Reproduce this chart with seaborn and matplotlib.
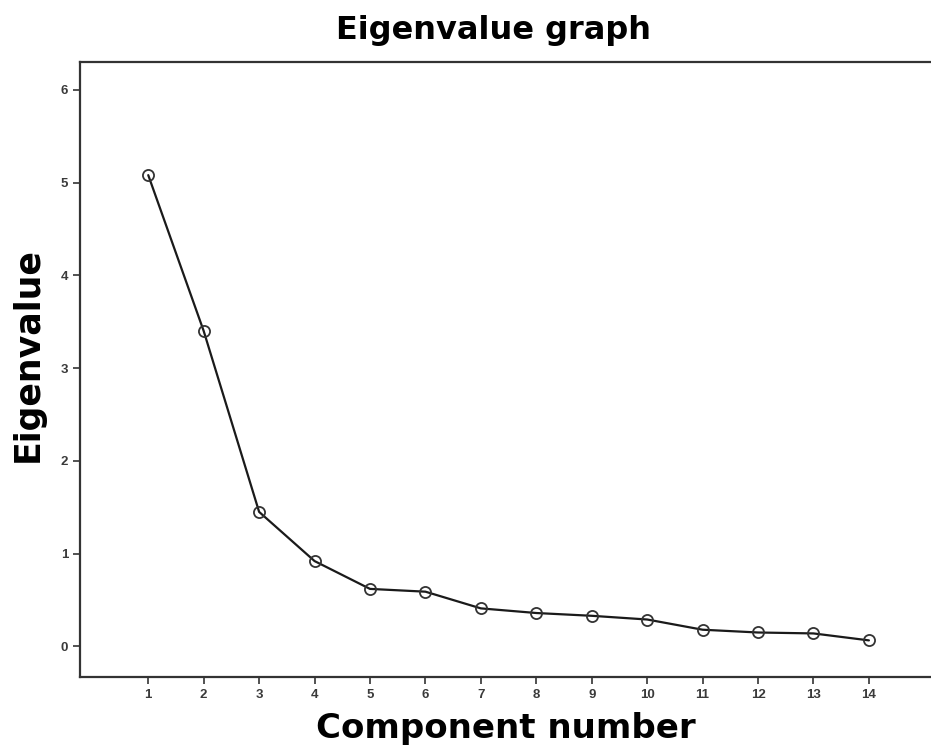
import pandas as pd
import seaborn as sns
import matplotlib
matplotlib.use("Agg")
import matplotlib.pyplot as plt

# Scree plot values
components = [1, 2, 3, 4, 5, 6, 7, 8, 9, 10, 11, 12, 13, 14]
eigenvalues = [5.08, 3.40, 1.45, 0.92, 0.62, 0.59, 0.41, 0.36, 0.33, 0.29, 0.18, 0.15, 0.14, 0.065]
y_ticks = [0, 1, 2, 3, 4, 5, 6]

df = pd.DataFrame({"component": components, "eigenvalue": eigenvalues})

sns.set_style("ticks")
plt.rcParams["font.family"] = ["DejaVu Sans"]

fig = plt.figure(figsize=(9.31, 7.51), dpi=100)
ax = fig.add_axes([0.086, 0.0985, 0.914, 0.819])

sns.lineplot(data=df, x="component", y="eigenvalue", ax=ax, color="#1a1a1a",
             linewidth=1.6, marker="o", markersize=8, markerfacecolor="none",
             markeredgecolor="#333333", markeredgewidth=1.3)

ax.set_xlim(-0.23, 15.12)
ax.set_ylim(-0.33, 6.30)
ax.set_xticks(components)
ax.set_yticks(y_ticks)
ax.tick_params(axis="both", direction="out", length=5, width=1.2, color="#333333",
               labelsize=9.5, labelcolor="#3a3a3a")
for lab in ax.get_xticklabels() + ax.get_yticklabels():
    lab.set_fontfamily(["Liberation Sans", "DejaVu Sans"])
    lab.set_fontweight("bold")

for side in ["left", "bottom", "top"]:
    ax.spines[side].set_linewidth(1.6)
    ax.spines[side].set_color("#333333")
ax.spines["right"].set_visible(False)

ax.set_xlabel("Component number", fontsize=24.5, fontweight="bold", color="black", labelpad=8)
ax.set_ylabel("Eigenvalue", fontsize=25, fontweight="bold", color="black")
ax.yaxis.set_label_coords(-0.042, 0.525)
fig.text(0.53, 0.96, "Eigenvalue graph", fontsize=23, fontweight="bold", color="black",
         ha="center", va="center")

fig.savefig("out.png", dpi=100)
